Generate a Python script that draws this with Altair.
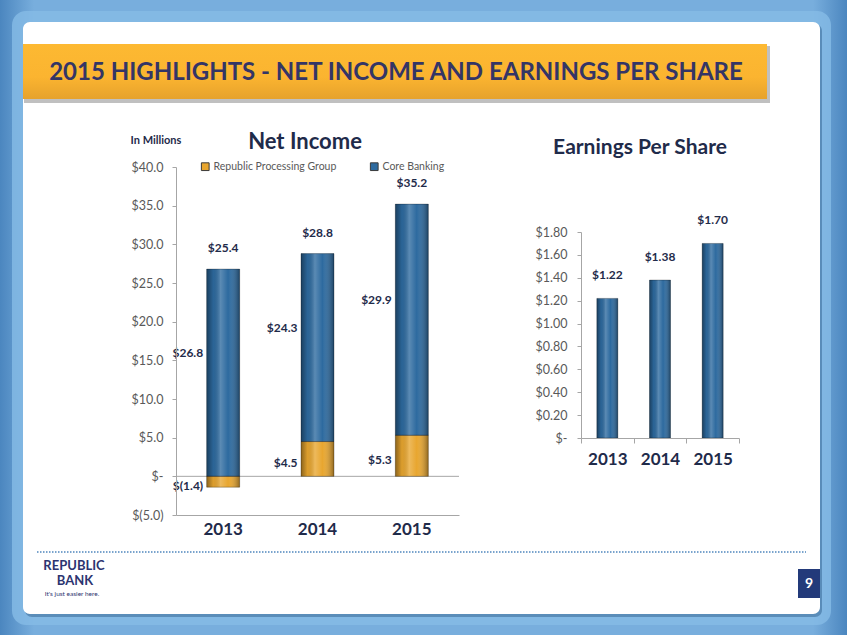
import altair as alt
import pandas as pd

# ---- data ----
years = ["2013", "2014", "2015"]
series_names = ["Republic Processing Group", "Core Banking"]
rpg_values = [-1.4, 4.5, 5.3]
core_values = [26.8, 24.3, 29.9]
eps_values = [1.22, 1.38, 1.70]
ni_ticks = [-5, 0, 5, 10, 15, 20, 25, 30, 35, 40]
eps_ticks = [0, 0.2, 0.4, 0.6, 0.8, 1.0, 1.2, 1.4, 1.6, 1.8]

rows = []
for i, y in enumerate(years):
    rows.append({"year": y, "series": series_names[0], "value": rpg_values[i], "order": 0})
    rows.append({"year": y, "series": series_names[1], "value": core_values[i], "order": 1})
ni_df = pd.DataFrame(rows)
eps_df = pd.DataFrame({"year": years, "eps": eps_values})

FONT = "Lato"
DARK = "#1f2b4a"
AXIS_GREY = "#a6a6a6"
LABEL_GREY = "#595959"
BLUE = "#2d6a9f"
ORANGE = "#e8a62f"

one = pd.DataFrame({"k": [0]})

# ---- slide decoration ----
bg = alt.Chart(one).mark_rect(
    fill=alt.Gradient(gradient="linear", x1=0, x2=1, y1=0, y2=0,
                      stops=[alt.GradientStop(color="#4b86bf", offset=0),
                             alt.GradientStop(color="#78aedd", offset=0.04),
                             alt.GradientStop(color="#78aedd", offset=0.96),
                             alt.GradientStop(color="#4b86bf", offset=1)])
).encode(x=alt.value(0), x2=alt.value(847), y=alt.value(0), y2=alt.value(635))
glow = alt.Chart(one).mark_rect(cornerRadius=14, color="#86bbe6", opacity=0.8).encode(
    x=alt.value(12), x2=alt.value(831), y=alt.value(11), y2=alt.value(625))
panel_shadow = alt.Chart(one).mark_rect(cornerRadius=7, color="#3f6f9c", opacity=0.6).encode(
    x=alt.value(25), x2=alt.value(822), y=alt.value(24), y2=alt.value(617))
panel = alt.Chart(one).mark_rect(cornerRadius=7, color="white").encode(
    x=alt.value(23), x2=alt.value(820), y=alt.value(22), y2=alt.value(614))
banner_shadow = alt.Chart(one).mark_rect(color="#8c8c8c", opacity=0.55).encode(
    x=alt.value(24), x2=alt.value(770), y=alt.value(46), y2=alt.value(103))
banner = alt.Chart(one).mark_rect(
    fill=alt.Gradient(gradient="linear", x1=0, x2=0, y1=0, y2=1,
                      stops=[alt.GradientStop(color="#fdb932", offset=0),
                             alt.GradientStop(color="#fbb430", offset=0.6),
                             alt.GradientStop(color="#e6a22c", offset=1)])
).encode(x=alt.value(23), x2=alt.value(767), y=alt.value(44), y2=alt.value(99))
title = alt.Chart(one).mark_text(
    text="2015 HIGHLIGHTS - NET INCOME AND EARNINGS PER SHARE", font=FONT, fontSize=24,
    fontWeight="bold", color="#343566", align="center", baseline="middle"
).encode(x=alt.value(396), y=alt.value(73))
dots = alt.Chart(one).mark_rule(color="#4f86bd", strokeWidth=1.5, strokeDash=[1.5, 1.5]).encode(
    x=alt.value(37), x2=alt.value(806), y=alt.value(552))
logo1 = alt.Chart(one).mark_text(text="REPUBLIC", font=FONT, fontSize=13, fontWeight="bold",
                                 color="#2c3470", align="center", baseline="middle").encode(
    x=alt.value(74), y=alt.value(566))
logo2 = alt.Chart(one).mark_text(text="BANK", font=FONT, fontSize=13, fontWeight="bold",
                                 color="#2c3470", align="center", baseline="middle").encode(
    x=alt.value(75), y=alt.value(581))
logo3 = alt.Chart(one).mark_text(text="It's just easier here.", font=FONT, fontSize=6.5,
                                 color="#2c3470", align="center", baseline="middle").encode(
    x=alt.value(72), y=alt.value(594))
pg_box = alt.Chart(one).mark_rect(color="#233a7a").encode(
    x=alt.value(798), x2=alt.value(820), y=alt.value(569), y2=alt.value(598))
pg_num = alt.Chart(one).mark_text(text="9", font=FONT, fontSize=14, fontWeight="bold",
                                  color="white", align="center", baseline="middle").encode(
    x=alt.value(809), y=alt.value(584))

ni_title = alt.Chart(one).mark_text(text="Net Income", font=FONT, fontSize=22, fontWeight="bold",
                                    color=DARK, align="center", baseline="middle").encode(
    x=alt.value(305), y=alt.value(142))
in_millions = alt.Chart(one).mark_text(text="In Millions", font=FONT, fontSize=11, fontWeight="bold",
                                       color=DARK, align="center", baseline="middle").encode(
    x=alt.value(156), y=alt.value(141))
eps_title = alt.Chart(one).mark_text(text="Earnings Per Share", font=FONT, fontSize=21, fontWeight="bold",
                                     color=DARK, align="center", baseline="middle").encode(
    x=alt.value(640), y=alt.value(148))

decor = alt.layer(bg, glow, panel_shadow, panel, banner_shadow, banner, title, dots,
                  logo1, logo2, logo3, pg_box, pg_num, ni_title, in_millions, eps_title)

# ---- Net income chart ----
ni_xscale = alt.Scale(type="band", domain=years, range=[176, 459], paddingInner=0, paddingOuter=0)
ni_yscale = alt.Scale(domain=[-5, 40], range=[515, 167], nice=False, zero=False)
ni_xaxis = alt.Axis(orient="bottom", offset=-120, title=None, ticks=False, grid=False, tickSize=0,
                    domainColor=AXIS_GREY,
                    labelFont=FONT, labelFontSize=17, labelFontWeight="bold", labelColor=DARK,
                    labelPadding=6, labelAngle=0, zindex=1)
ni_yaxis = alt.Axis(orient="left", offset=-176, title=None, grid=False, values=ni_ticks,
                    labelExpr="datum.value == 0 ? '$-' : (datum.value < 0 ? '$(' + format(-datum.value, '.1f') + ')' : '$' + format(datum.value, '.1f'))",
                    domainColor=AXIS_GREY, tickColor=AXIS_GREY, tickSize=4, labelPadding=9,
                    labelFont=FONT, labelFontSize=12.5, labelColor=LABEL_GREY, zindex=1)
ni_x = alt.X("year:N", scale=ni_xscale, axis=ni_xaxis)

ni_base = alt.Chart(ni_df).transform_stack(
    stack="value", groupby=["year"], as_=["y0", "y1"], sort=[alt.SortField("order")]
).transform_calculate(
    mid="(datum.y0 + datum.y1) / 2",
    lbl="datum.value < 0 ? '$(' + format(-datum.value, '.1f') + ')' : '$' + format(datum.value, '.1f')"
)

ni_bars = ni_base.mark_bar(size=33).encode(
    x=ni_x,
    y=alt.Y("y0:Q", scale=ni_yscale, axis=ni_yaxis),
    y2="y1:Q",
    color=alt.Color("series:N", scale=alt.Scale(domain=series_names, range=[ORANGE, BLUE]),
                    legend=alt.Legend(orient="none", legendX=200, legendY=161, direction="horizontal",
                                      title=None, symbolType="square", symbolSize=60,
                                      symbolStrokeColor="#3a3a3a", symbolStrokeWidth=1,
                                      labelFont=FONT, labelFontSize=10.5, labelColor=LABEL_GREY,
                                      columnPadding=31, labelOffset=3, zindex=1)),
)
shade = alt.Gradient(gradient="linear", x1=0, x2=1, y1=0, y2=0,
                     stops=[alt.GradientStop(color="rgba(0,0,0,0.40)", offset=0),
                            alt.GradientStop(color="rgba(0,0,0,0.05)", offset=0.2),
                            alt.GradientStop(color="rgba(255,255,255,0.22)", offset=0.42),
                            alt.GradientStop(color="rgba(255,255,255,0.0)", offset=0.65),
                            alt.GradientStop(color="rgba(0,0,0,0.38)", offset=1)])
ni_overlay = ni_base.mark_bar(size=33, fill=shade, stroke="rgba(0,0,0,0.35)", strokeWidth=0.8).encode(
    x=ni_x, y=alt.Y("y0:Q", scale=ni_yscale, axis=ni_yaxis), y2="y1:Q")

ni_core_labels = ni_base.transform_filter(alt.datum.series == "Core Banking").mark_text(
    font=FONT, fontSize=12, fontWeight="bold", color=DARK, align="right", baseline="middle",
    dx=-20, dy=-20).encode(
    x=ni_x, y=alt.Y("mid:Q", scale=ni_yscale, axis=ni_yaxis), text="lbl:N")
ni_rpg_labels = ni_base.transform_filter(alt.datum.series != "Core Banking").mark_text(
    font=FONT, fontSize=12, fontWeight="bold", color=DARK, align="right", baseline="middle",
    dx=-20, dy=4).encode(
    x=ni_x, y=alt.Y("mid:Q", scale=ni_yscale, axis=ni_yaxis), text="lbl:N")

ni_tot_labels = alt.Chart(ni_df).transform_calculate(
    pos="max(datum.value, 0)"
).transform_aggregate(
    top="sum(pos)", total="sum(value)", groupby=["year"]
).transform_calculate(
    lbl="'$' + format(datum.total, '.1f')"
).mark_text(font=FONT, fontSize=12, fontWeight="bold", color=DARK, align="center", baseline="middle", dy=-21).encode(
    x=ni_x, y=alt.Y("top:Q", scale=ni_yscale, axis=ni_yaxis), text="lbl:N")

ni_zero = alt.Chart(one).mark_rule(color=AXIS_GREY, strokeWidth=1).encode(
    y=alt.Y(datum=0, scale=ni_yscale, axis=ni_yaxis), x=alt.value(176), x2=alt.value(459))

ni_layer = alt.layer(ni_zero, ni_bars, ni_overlay, ni_core_labels, ni_rpg_labels, ni_tot_labels)

# ---- EPS chart ----
eps_xscale = alt.Scale(type="band", domain=years, range=[581, 739], paddingInner=0, paddingOuter=0)
eps_yscale = alt.Scale(domain=[0, 1.8], range=[438, 232], nice=False)
eps_xaxis = alt.Axis(orient="bottom", offset=-197, title=None, ticks=True, tickBand="extent", tickSize=5,
                     tickColor=AXIS_GREY, domainColor=AXIS_GREY, labelFont=FONT, labelFontSize=17,
                     labelFontWeight="bold", labelColor=DARK, labelPadding=8, labelAngle=0, zindex=1)
eps_yaxis = alt.Axis(orient="left", offset=-581, title=None, grid=False, values=eps_ticks,
                     labelExpr="datum.value == 0 ? '$-' : '$' + format(datum.value, '.2f')",
                     domainColor=AXIS_GREY, tickColor=AXIS_GREY, tickSize=4, labelPadding=10,
                     labelFont=FONT, labelFontSize=12.5, labelColor=LABEL_GREY, zindex=1)
eps_x = alt.X("year:N", scale=eps_xscale, axis=eps_xaxis)
eps_y = alt.Y("eps:Q", scale=eps_yscale, axis=eps_yaxis)

eps_bars = alt.Chart(eps_df).mark_bar(size=21, color=BLUE).encode(x=eps_x, y=eps_y)
eps_overlay = alt.Chart(eps_df).mark_bar(size=21, fill=shade, stroke="rgba(0,0,0,0.35)", strokeWidth=0.8).encode(
    x=eps_x, y=eps_y)
eps_labels = alt.Chart(eps_df).transform_calculate(
    lbl="'$' + format(datum.eps, '.2f')"
).mark_text(font=FONT, fontSize=12, fontWeight="bold", color=DARK, align="center", baseline="middle", dy=-23).encode(
    x=eps_x, y=eps_y, text="lbl:N")
eps_layer = alt.layer(eps_bars, eps_overlay, eps_labels)

chart = alt.layer(decor, ni_layer, eps_layer).resolve_scale(
    x="independent", y="independent", color="independent"
).resolve_axis(x="independent", y="independent").properties(
    width=847, height=635, autosize=alt.AutoSizeParams(type="none"), padding=0
).configure_view(stroke=None).configure(background="#5d97cb")

chart.save("out.html", embed_options={"renderer": "svg", "actions": False})
